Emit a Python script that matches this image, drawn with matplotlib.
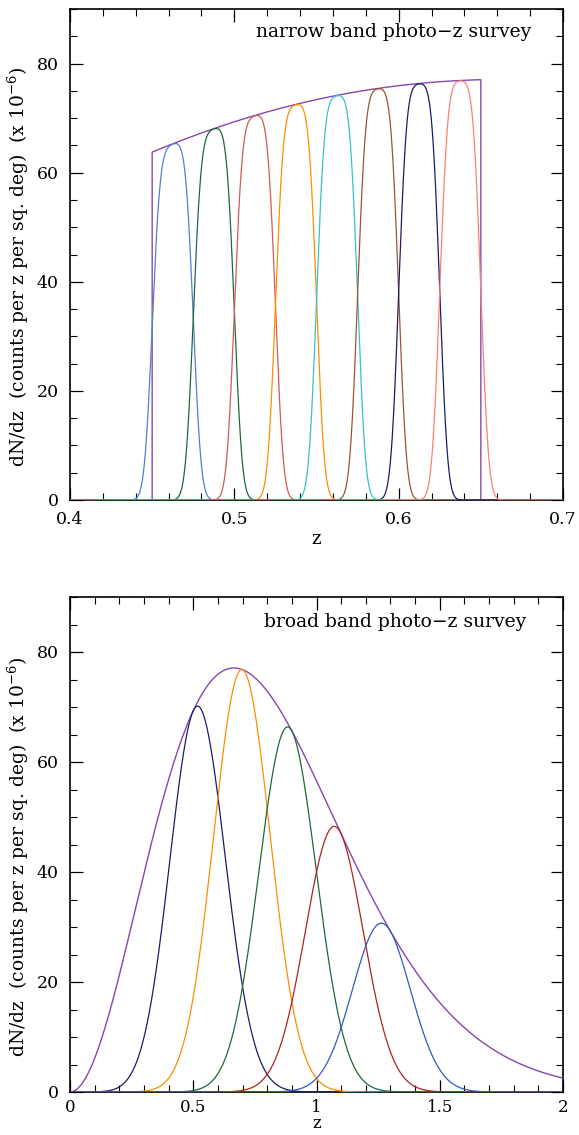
import math
import matplotlib
matplotlib.use('Agg')
import matplotlib.pyplot as plt
import matplotlib.ticker as mticker
import numpy as np

plt.rcParams.update({
    'font.family': 'DejaVu Serif',
    'mathtext.fontset': 'dejavuserif',
    'font.size': 12,
    'xtick.direction': 'in',
    'ytick.direction': 'in',
    'xtick.top': True,
    'ytick.right': True,
    'xtick.major.size': 9,
    'ytick.major.size': 9,
    'xtick.minor.size': 5,
    'ytick.minor.size': 5,
    'xtick.major.width': 0.9,
    'ytick.major.width': 0.9,
    'xtick.minor.width': 0.8,
    'ytick.minor.width': 0.8,
    'axes.linewidth': 1.2,
})

# ---- overall n(z): peak position / height ----
nz_peak_z = 0.665
nz_peak = 77.1
nz_beta = 1.5

# ---- narrow band survey ----
narrow_lo, narrow_hi = 0.45, 0.65
narrow_centers = [0.4625, 0.4875, 0.5125, 0.5375, 0.5625, 0.5875, 0.6125, 0.6375]
narrow_halfwidth = 0.0125
narrow_sigma = 0.0038
narrow_colors = ['#4f80d2', '#1d6a33', '#d05a5a', '#ff8c00',
                 '#35c3c6', '#a0522d', '#1c1c6a', '#fa8072']

# ---- broad band survey ----
broad_centers = [0.5, 0.7, 0.9, 1.1, 1.3]
broad_sigma = 0.12
broad_colors = ['#1c1c6a', '#ff8c00', '#1d6a33', '#b02222', '#3558c0']

env_color = '#8447ad'
ylabel = r'dN/dz  (counts per z per sq. deg)  (x 10$^{-6}$)'

z0 = nz_peak_z / (2.0 / nz_beta) ** (1.0 / nz_beta)


def nz(z):
    z = np.asarray(z, dtype=float)
    return nz_peak * (z / nz_peak_z) ** 2 * np.exp((nz_peak_z / z0) ** nz_beta - (z / z0) ** nz_beta)


erf = np.vectorize(math.erf)

fig = plt.figure(figsize=(5.79, 11.35), dpi=100)
ax1 = fig.add_axes([70 / 579, 1 - 500 / 1135, 493 / 579, 491 / 1135])
ax2 = fig.add_axes([70 / 579, 1 - 1092 / 1135, 493 / 579, 495 / 1135])

# ========== top: narrow band ==========
z = np.linspace(0.4, 0.7, 1500)
zin = np.linspace(narrow_lo, narrow_hi, 300)
ex = np.concatenate([[0.4, narrow_lo], zin, [narrow_hi, 0.7]])
ey = np.concatenate([[0, 0], nz(zin), [0, 0]])
ax1.plot(ex, ey, color=env_color, lw=1.0, zorder=3)
s2 = math.sqrt(2) * narrow_sigma
for c, col in zip(narrow_centers, narrow_colors):
    w = 0.5 * (erf((z - c + narrow_halfwidth) / s2) - erf((z - c - narrow_halfwidth) / s2))
    ax1.plot(z, nz(z) * w, color=col, lw=0.9, zorder=3)

ax1.set_xlim(0.4, 0.7)
ax1.set_ylim(0, 90)
ax1.xaxis.set_major_locator(mticker.MultipleLocator(0.1))
ax1.xaxis.set_minor_locator(mticker.MultipleLocator(0.02))
ax1.text(0.6805, 85.8, 'narrow band photo\u2212z survey', fontsize=13.5,
         ha='right', va='center')
ax1.tick_params(axis='x', which='both', labelsize=12.5, pad=8)
ax1.set_xlabel('z', fontsize=13, labelpad=1)

# ========== bottom: broad band ==========
zb = np.linspace(0.0, 2.0, 1500)
ax2.plot(zb, nz(zb), color=env_color, lw=1.0, zorder=3)
for c, col in zip(broad_centers, broad_colors):
    w = np.exp(-(zb - c) ** 2 / (2 * broad_sigma ** 2))
    ax2.plot(zb, nz(zb) * w, color=col, lw=0.9, zorder=3)

ax2.set_xlim(0, 2)
ax2.set_ylim(0, 90)
ax2.xaxis.set_major_locator(mticker.MultipleLocator(0.5))
ax2.xaxis.set_minor_locator(mticker.MultipleLocator(0.1))
ax2.xaxis.set_major_formatter(mticker.FuncFormatter(lambda v, p: '%g' % v))
ax2.text(1.85, 85.5, 'broad band photo\u2212z survey', fontsize=13.5,
         ha='right', va='center')
ax2.tick_params(axis='x', which='both', labelsize=12, pad=5)
ax2.set_xlabel('z', fontsize=12, labelpad=-1)

for ax in (ax1, ax2):
    ax.yaxis.set_major_locator(mticker.MultipleLocator(20))
    ax.yaxis.set_minor_locator(mticker.MultipleLocator(5))
    ax.tick_params(axis='y', which='both', labelsize=12.5, pad=8)
    ax.set_ylabel(ylabel, fontsize=13.5)
    ax.yaxis.set_label_coords(-0.079, 0.475)

fig.savefig('out.png', dpi=100)
